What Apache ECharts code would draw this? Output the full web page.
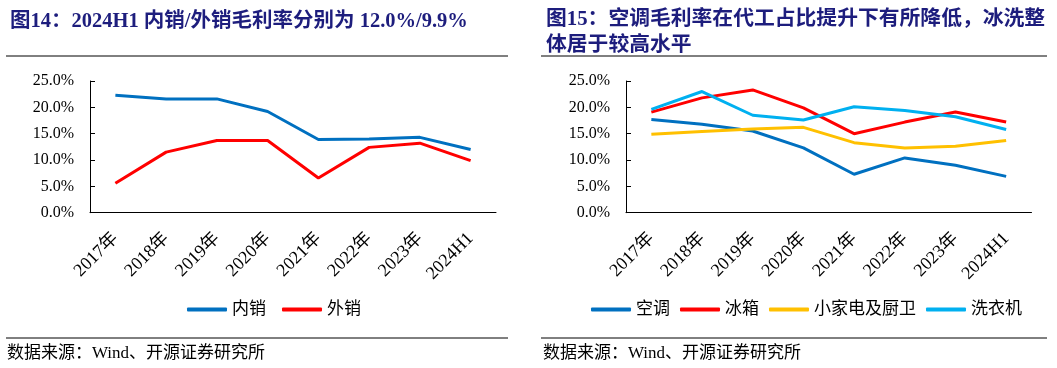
<!DOCTYPE html>
<html><head><meta charset="utf-8">
<script src="https://cdn.jsdelivr.net/npm/echarts@6/dist/echarts.min.js"></script>
<style>html,body{margin:0;padding:0;background:#fff}#c{width:1057px;height:368px}</style>
</head><body><div id="c"></div>
<script>
const categories = ['2017年','2018年','2019年','2020年','2021年','2022年','2023年','2024H1'];
const yTicks = [0,5,10,15,20,25];
// Left chart
const domestic = [22.3,21.6,21.6,19.2,13.9,14.0,14.3,12.0];
const exportS = [5.6,11.5,13.7,13.7,6.6,12.4,13.2,9.9];
// Right chart
const ac = [17.7,16.8,15.5,12.3,7.3,10.4,9.0,6.9];
const fridge = [19.1,21.8,23.3,19.9,15.0,17.2,19.1,17.2];
const smallApp = [14.9,15.4,15.9,16.2,13.3,12.3,12.6,13.7];
const washer = [19.6,23.0,18.5,17.6,20.1,19.4,18.2,15.8];

const FONT = "'Times New Roman','Liberation Serif','Noto Sans CJK SC',serif";
const TITLE_COLOR = '#1d1d7d';
const chart = echarts.init(document.getElementById('c'), null, {renderer:'canvas'});

function xAxis(gi){
  return {type:'category', gridIndex:gi, data:categories, boundaryGap:true,
    axisLine:{lineStyle:{color:'#000',width:1}},
    axisTick:{inside:true,length:5,lineStyle:{color:'#000'}},
    axisLabel:{rotate:45,color:'#000',fontFamily:FONT,fontSize:18,margin:23,interval:0}};
}
function yAxis(gi){
  return {type:'value', gridIndex:gi, min:yTicks[0], max:yTicks[yTicks.length-1], interval:5,
    axisLine:{show:true,lineStyle:{color:'#000',width:1}},
    axisTick:{show:true,inside:true,length:5,lineStyle:{color:'#000'}},
    splitLine:{show:false},
    axisLabel:{color:'#000',fontFamily:FONT,fontSize:16,margin:16,formatter:v=>v.toFixed(1)+'%'}};
}
function line(name,data,color,gi){
  return {name, type:'line', xAxisIndex:gi, yAxisIndex:gi, data, symbol:'none',
    lineStyle:{color,width:3}, itemStyle:{color}, smooth:false, animation:false};
}
const legendText = {color:'#000',fontFamily:FONT,fontSize:17};
chart.setOption({
  animation:false,
  title:[
    {text:'图14：2024H1 内销/外销毛利率分别为 12.0%/9.9%', left:5, top:4,
      textStyle:{color:TITLE_COLOR,fontWeight:'bold',fontFamily:FONT,fontSize:20.5,lineHeight:25}},
    {text:'图15：空调毛利率在代工占比提升下有所降低，冰洗整\n体居于较高水平', left:541, top:2,
      textStyle:{color:TITLE_COLOR,fontWeight:'bold',fontFamily:FONT,fontSize:20.8,lineHeight:25.5}}
  ],
  grid:[
    {left:90,width:406,top:81,height:131.7},
    {left:626,width:405.5,top:81,height:131.7}
  ],
  xAxis:[xAxis(0),xAxis(1)],
  yAxis:[yAxis(0),yAxis(1)],
  legend:[
    {data:['内销','外销'], left:182, top:296, itemWidth:40, itemHeight:4, icon:'roundRect', itemGap:16, textStyle:legendText},
    {data:['空调','冰箱','小家电及厨卫','洗衣机'], left:586, top:296, itemWidth:40, itemHeight:4, icon:'roundRect', itemGap:10, textStyle:legendText}
  ],
  series:[
    line('内销',domestic,'#0070c0',0),
    line('外销',exportS,'#ff0000',0),
    line('空调',ac,'#0070c0',1),
    line('冰箱',fridge,'#ff0000',1),
    line('小家电及厨卫',smallApp,'#ffc000',1),
    line('洗衣机',washer,'#00b0f0',1)
  ],
  graphic:[
    {type:'line',shape:{x1:6,y1:56,x2:508,y2:56},style:{stroke:'#000',lineWidth:1}},
    {type:'line',shape:{x1:541,y1:56,x2:1047,y2:56},style:{stroke:'#000',lineWidth:1}},
    {type:'line',shape:{x1:6,y1:338,x2:508,y2:338},style:{stroke:'#000',lineWidth:1}},
    {type:'line',shape:{x1:541,y1:338,x2:1047,y2:338},style:{stroke:'#000',lineWidth:1}},
    {type:'text',left:7,top:345,style:{text:'数据来源：Wind、开源证券研究所',fill:'#000',font:"17px "+FONT}},
    {type:'text',left:543,top:345,style:{text:'数据来源：Wind、开源证券研究所',fill:'#000',font:"17px "+FONT}}
  ]
});
</script></body></html>
